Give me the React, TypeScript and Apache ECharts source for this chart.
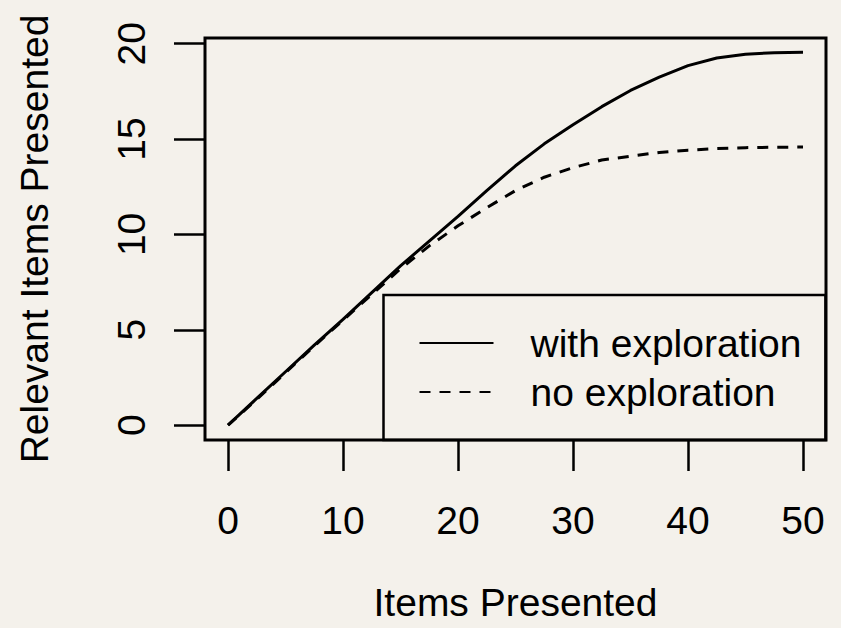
import React, { useEffect, useRef } from "react";
import * as echarts from "echarts";

const xTicks = [0, 10, 20, 30, 40, 50];
const yTicks = [0, 5, 10, 15, 20];
const itemsPresented = [0, 2.5, 5, 7.5, 10, 12.5, 15, 17.5, 20, 22.5, 25, 27.5, 30, 32.5, 35, 37.5, 40, 42.5, 45, 47.5, 50];
const withExploration = [0, 1.4, 2.8, 4.2, 5.55, 6.95, 8.35, 9.65, 10.95, 12.3, 13.6, 14.75, 15.75, 16.7, 17.55, 18.25, 18.85, 19.25, 19.45, 19.53, 19.55];
const noExploration = [0, 1.35, 2.75, 4.15, 5.5, 6.85, 8.2, 9.4, 10.45, 11.4, 12.3, 13.0, 13.5, 13.9, 14.1, 14.3, 14.42, 14.5, 14.55, 14.57, 14.58];
const seriesNames = ["with exploration", "no exploration"];

const FONT = "'Liberation Sans', Arial, Helvetica, sans-serif";
const BG = "#f4f1eb";

export default function App() {
  const ref = useRef<HTMLDivElement>(null);
  useEffect(() => {
    document.body.style.margin = "0";
    document.body.style.background = BG;
    const chart = echarts.init(ref.current!, null, { renderer: "svg" });
    chart.setOption({
      animation: false,
      backgroundColor: BG,
      grid: {
        left: 205,
        top: 38,
        width: 621,
        height: 402,
        show: true,
        borderColor: "#000",
        borderWidth: 3,
        backgroundColor: "transparent",
        containLabel: false,
        outerBoundsMode: "none",
      },
      xAxis: {
        type: "value",
        min: -2,
        max: 52,
        name: "Items Presented",
        nameLocation: "middle",
        nameGap: 143,
        nameTextStyle: { fontSize: 39, fontFamily: FONT, color: "#000" },
        axisLine: { show: false, onZero: false },
        splitLine: { show: false },
        axisTick: {
          show: true,
          inside: false,
          length: 31,
          customValues: xTicks,
          lineStyle: { color: "#000", width: 2.5 },
        },
        axisLabel: {
          customValues: xTicks,
          margin: 61,
          fontSize: 39,
          fontFamily: FONT,
          color: "#000",
        },
      },
      yAxis: {
        type: "value",
        min: -0.78,
        max: 20.3,
        name: "Relevant Items Presented",
        nameLocation: "middle",
        nameGap: 151,
        nameTextStyle: { fontSize: 39, fontFamily: FONT, color: "#000" },
        axisLine: { show: false, onZero: false },
        splitLine: { show: false },
        axisTick: {
          show: true,
          inside: false,
          length: 31,
          customValues: yTicks,
          lineStyle: { color: "#000", width: 2.5 },
        },
        axisLabel: {
          customValues: yTicks,
          rotate: 90,
          margin: 54,
          fontSize: 39,
          fontFamily: FONT,
          color: "#000",
        },
      },
      legend: {
        orient: "vertical",
        left: 383.5,
        top: 295,
        padding: [28, 24, 28, 35],
        borderColor: "#000",
        borderWidth: 2.5,
        itemWidth: 74,
        itemHeight: 20,
        itemGap: 9,
        selectedMode: false,
        data: seriesNames,
        itemStyle: { opacity: 0, borderWidth: 0 },
        textStyle: {
          fontSize: 39,
          fontFamily: FONT,
          color: "#000",
          lineHeight: 40,
          padding: [0, 0, 0, 32],
        },
      },
      series: [
        {
          name: seriesNames[0],
          type: "line",
          symbol: "none",
          data: itemsPresented.map((x, i) => [x, withExploration[i]]),
          lineStyle: { color: "#000", width: 3, type: "solid" },
          itemStyle: { color: "#000" },
        },
        {
          name: seriesNames[1],
          type: "line",
          symbol: "none",
          data: itemsPresented.map((x, i) => [x, noExploration[i]]),
          lineStyle: { color: "#000", width: 3, type: [11, 9] },
          itemStyle: { color: "#000" },
        },
      ],
    });
    return () => chart.dispose();
  }, []);
  return <div ref={ref} style={{ width: 841, height: 628, background: BG }} />;
}
